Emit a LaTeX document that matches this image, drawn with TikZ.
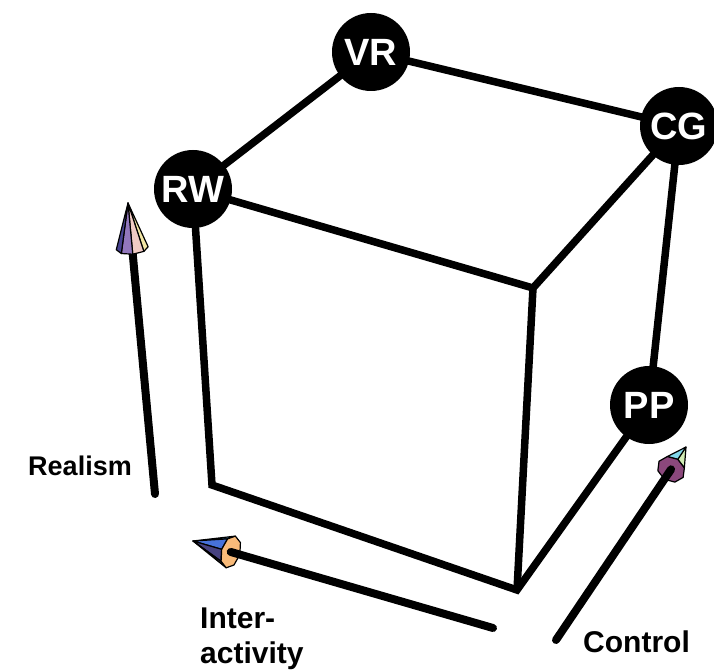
\documentclass[tikz,border=0pt]{standalone}
\usepackage{fontspec}
\setmainfont{Liberation Sans}
\pgfdeclarelayer{bg}
\pgfsetlayers{bg,main}

\tikzset{
  corner/.style={circle, fill=black, minimum size=78pt, inner sep=0pt,
    text=white, font=\fontsize{38}{38}\selectfont\bfseries},
  cubeedge/.style={line width=7.5pt, line join=miter},
  axisline/.style={line width=8pt, line cap=round},
  axislabel/.style={inner sep=0pt, font=\fontsize{30}{35}\selectfont\bfseries},
  conefacet/.style={draw=black, line width=1.2pt, line join=round},
}

% Diffuse colour of a facet with normal (#1 right, #2 up, #3 toward viewer),
% lit by a red, a green and a blue light plus some ambient light.
\newcommand\shadefacet[3]{%
  \pgfmathsetmacro\cR{min(1,0.28+0.72*max(0,((#1)+(#3))/1.4142))}%
  \pgfmathsetmacro\cG{min(1,0.26+0.72*max(0,((#1)+(#2)+(#3))/1.7321))}%
  \pgfmathsetmacro\cB{min(1,0.3+0.72*max(0,((#2)+(#3))/1.4142))}%
  \definecolor{facetfill}{rgb}{\cR,\cG,\cB}%
}

% Faceted cone: tip (#1,#2), unit axis (#3,#4) toward the tip on screen,
% tilt #5 out of the page (positive: tip toward viewer), length #6,
% base radius #7; the base centre is stored as coordinate #8.
\newcommand\conehead[8]{%
  \pgfmathsetmacro\cLp{#6*cos(#5)}%
  \pgfmathsetmacro\cBx{#1-\cLp*(#3)}%
  \pgfmathsetmacro\cBy{#2-\cLp*(#4)}%
  \pgfmathsetmacro\csa{sin(atan(#7/#6))}%
  \pgfmathsetmacro\cca{cos(atan(#7/#6))}%
  \pgfmathsetmacro\csp{sin(#5)}%
  \pgfmathsetmacro\ccp{cos(#5)}%
  \coordinate (#8) at (\cBx,\cBy);
  \foreach \k in {0,...,7}{%
    \pgfmathsetmacro\ta{45*\k}%
    \pgfmathsetmacro\tb{45*\k+45}%
    \pgfmathsetmacro\tm{45*\k+22.5}%
    \pgfmathsetmacro\nx{\cca*(-cos(\tm)*(#4)-sin(\tm)*(\csp)*(#3))+\csa*(#3)*\ccp}%
    \pgfmathsetmacro\ny{\cca*(cos(\tm)*(#3)-sin(\tm)*(\csp)*(#4))+\csa*(#4)*\ccp}%
    \pgfmathsetmacro\nz{\cca*sin(\tm)*\ccp+\csa*(\csp)}%
    \ifdim\nz pt>0pt
      \pgfmathsetmacro\nup{-(\ny)}%
      \shadefacet{\nx}{\nup}{\nz}%
      \pgfmathsetmacro\pax{\cBx-(#7)*cos(\ta)*(#4)-(#7)*sin(\ta)*(\csp)*(#3)}%
      \pgfmathsetmacro\pay{\cBy+(#7)*cos(\ta)*(#3)-(#7)*sin(\ta)*(\csp)*(#4)}%
      \pgfmathsetmacro\pbx{\cBx-(#7)*cos(\tb)*(#4)-(#7)*sin(\tb)*(\csp)*(#3)}%
      \pgfmathsetmacro\pby{\cBy+(#7)*cos(\tb)*(#3)-(#7)*sin(\tb)*(\csp)*(#4)}%
      \filldraw[conefacet, fill=facetfill] (#1,#2) -- (\pax,\pay) -- (\pbx,\pby) -- cycle;
    \fi
  }%
  \ifdim\csp pt<0pt
    \pgfmathsetmacro\bnx{-(#3)*\ccp}%
    \pgfmathsetmacro\bnu{(#4)*\ccp}%
    \pgfmathsetmacro\bnz{-(\csp)}%
    \shadefacet{\bnx}{\bnu}{\bnz}%
    \filldraw[conefacet, fill=facetfill]
      plot[samples at={0,45,...,315}]
      ({\cBx-(#7)*cos(\x)*(#4)-(#7)*sin(\x)*(\csp)*(#3)},
       {\cBy+(#7)*cos(\x)*(#3)-(#7)*sin(\x)*(\csp)*(#4)}) -- cycle;
  \fi
}

\begin{document}
\begin{tikzpicture}[x=1pt,y=-1pt]
\useasboundingbox (0,0) rectangle (714,671);
\clip (0,0) rectangle (714,671);

% cube vertices
\node[corner] (VR) at (371,52) {VR};
\node[corner] (CG) at (679,126) {CG};
\node[corner] (RW) at (193,189) {RW};
\node[corner] (PP) at (649,405) {PP};
\coordinate (F) at (533,288);
\coordinate (BL) at (212,485);
\coordinate (BF) at (517,590);

\begin{pgfonlayer}{bg}
  \draw[cubeedge] (RW.center) -- (VR.center) -- (CG.center);
  \draw[cubeedge] (RW.center) -- (F) -- (CG.center);
  \draw[cubeedge] (RW.center) -- (BL) -- (BF) -- (PP.center);
  \draw[cubeedge] (F) -- (BF);
  \draw[cubeedge] (CG.center) -- (PP.center);
\end{pgfonlayer}

% axes with cone heads
\coordinate (realTail) at (155,494);
\coordinate (interTail) at (493,628);
\coordinate (ctrlTail) at (556,640);

\conehead{128}{203}{-0.0924}{-0.9957}{22}{49}{16}{realBase}
\begin{pgfonlayer}{bg}
  \draw[axisline] (realTail) -- (realBase);
\end{pgfonlayer}

\conehead{193}{541}{-0.9603}{-0.2785}{-35}{48}{16.5}{interBase}
\draw[axisline] (interTail) -- (interBase);

\conehead{686}{447}{0.5557}{-0.8315}{-56}{48}{14.5}{ctrlBase}
\draw[axisline] (ctrlTail) -- (ctrlBase);

% axis labels
\node[axislabel, font=\fontsize{27}{33}\selectfont\bfseries, anchor=base east] (lblReal) at (132,475) {Realism};
\node[axislabel, anchor=base west, align=left] (lblInter) at (200,663) {Inter-\\activity};
\node[axislabel, anchor=base west] (lblCtrl) at (583,652) {Control};
\end{tikzpicture}
\end{document}
